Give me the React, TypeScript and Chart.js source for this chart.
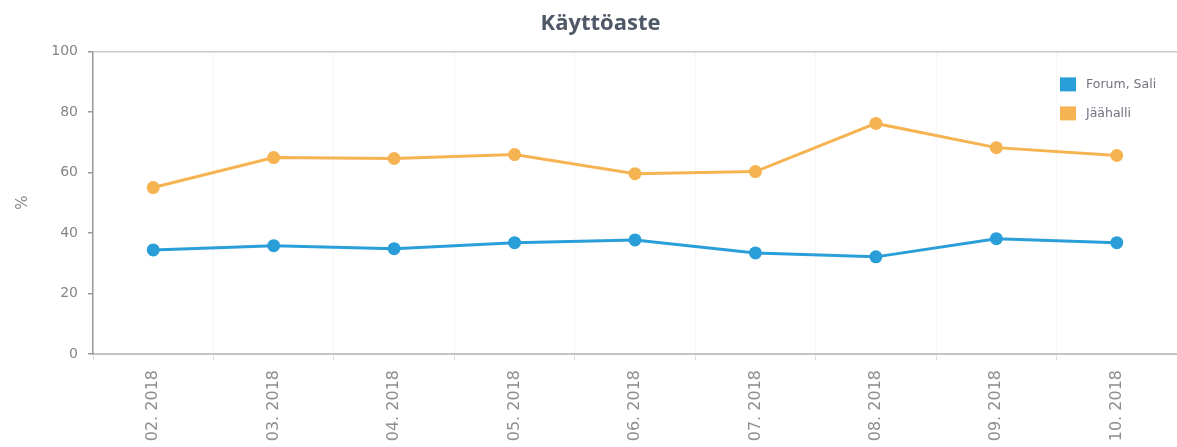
import { useEffect, useRef } from "react";
import { Chart, registerables } from "chart.js";

Chart.register(...registerables);

const categories = [
  "02. 2018",
  "03. 2018",
  "04. 2018",
  "05. 2018",
  "06. 2018",
  "07. 2018",
  "08. 2018",
  "09. 2018",
  "10. 2018",
];
const seriesNames = ["Forum, Sali", "Jäähalli"];
const forumSali = [34.4, 35.8, 34.8, 36.8, 37.7, 33.4, 32.1, 38.1, 36.8];
const jaahalli = [55.0, 64.9, 64.6, 65.9, 59.6, 60.3, 76.2, 68.2, 65.6];
const yMin = 0;
const yMax = 100;
const yStep = 20;
const chartTitle = "Käyttöaste";
const yTitle = "%";

const BLUE = "#2a9ed8";
const ORANGE = "#f6b351";

const cornerLegend = {
  id: "cornerLegend",
  afterDraw(chart: any) {
    const { ctx, chartArea } = chart;
    ctx.save();
    chart.data.datasets.forEach((ds: any, i: number) => {
      const x = chartArea.right - 117;
      const y = chartArea.top + 26 + i * 29;
      ctx.fillStyle = ds.borderColor;
      ctx.fillRect(x, y, 16, 14);
      ctx.fillStyle = "#727282";
      ctx.font = '12.5px "DejaVu Sans"';
      ctx.textBaseline = "middle";
      ctx.textAlign = "left";
      ctx.fillText(ds.label, x + 26, y + 7);
    });
    ctx.restore();
  },
};

export default function App() {
  const ref = useRef<HTMLCanvasElement | null>(null);

  useEffect(() => {
    document.body.style.margin = "0";
    const canvas = ref.current;
    if (!canvas) return;
    const chart = new Chart(canvas, {
      type: "line",
      data: {
        labels: categories,
        datasets: [
          {
            label: seriesNames[0],
            data: forumSali,
            borderColor: BLUE,
            backgroundColor: BLUE,
            pointBackgroundColor: BLUE,
            pointBorderColor: BLUE,
            pointRadius: 5,
            borderWidth: 3,
            tension: 0,
          },
          {
            label: seriesNames[1],
            data: jaahalli,
            borderColor: ORANGE,
            backgroundColor: ORANGE,
            pointBackgroundColor: ORANGE,
            pointBorderColor: ORANGE,
            pointRadius: 5,
            borderWidth: 3,
            tension: 0,
          },
        ],
      },
      options: {
        responsive: false,
        animation: false,
        layout: { autoPadding: false, padding: { left: 24, right: 0, top: 0, bottom: 0 } },
        plugins: {
          legend: { display: false },
          tooltip: { enabled: false },
          title: {
            display: true,
            text: chartTitle,
            color: "#4f5867",
            font: { family: "Open Sans", size: 22, weight: "bold", lineHeight: 1.2 },
            padding: { top: 11, bottom: 14 },
          },
        },
        scales: {
          x: {
            offset: true,
            afterFit: (s: any) => {
              s.height = 93;
              s.paddingRight = 0;
              s.paddingLeft = 0;
            },
            grid: {
              offset: true,
              color: "#f5f5f5",
              tickColor: "#dddddd",
              tickLength: 6,
            },
            border: { color: "#c4c4c4", width: 2 },
            ticks: {
              autoSkip: false,
              minRotation: 90,
              maxRotation: 90,
              padding: 10,
              color: "#8e8e8e",
              font: { family: "DejaVu Sans", size: 16 },
            },
          },
          y: {
            min: yMin,
            max: yMax,
            afterFit: (s: any) => {
              s.width = 69;
            },
            grid: {
              color: (c: any) => (c.tick && c.tick.value === yMax ? "#c8c8c8" : "rgba(0,0,0,0)"),
              lineWidth: 1.5,
              tickColor: "#999999",
              tickLength: 5,
            },
            border: { color: "#9a9a9a", width: 1.5 },
            ticks: {
              stepSize: yStep,
              padding: 10,
              color: "#858585",
              font: { family: "DejaVu Sans", size: 14 },
            },
            title: {
              display: true,
              text: yTitle,
              color: "#8a8a8a",
              font: { family: "DejaVu Sans", size: 15 },
              padding: { top: -10, bottom: 0 },
            },
          },
        },
      },
      plugins: [cornerLegend],
    });
    return () => chart.destroy();
  }, []);

  return (
    <div style={{ width: 1177, height: 447 }}>
      <canvas ref={ref} width={1177} height={447} style={{ display: "block" }} />
    </div>
  );
}
